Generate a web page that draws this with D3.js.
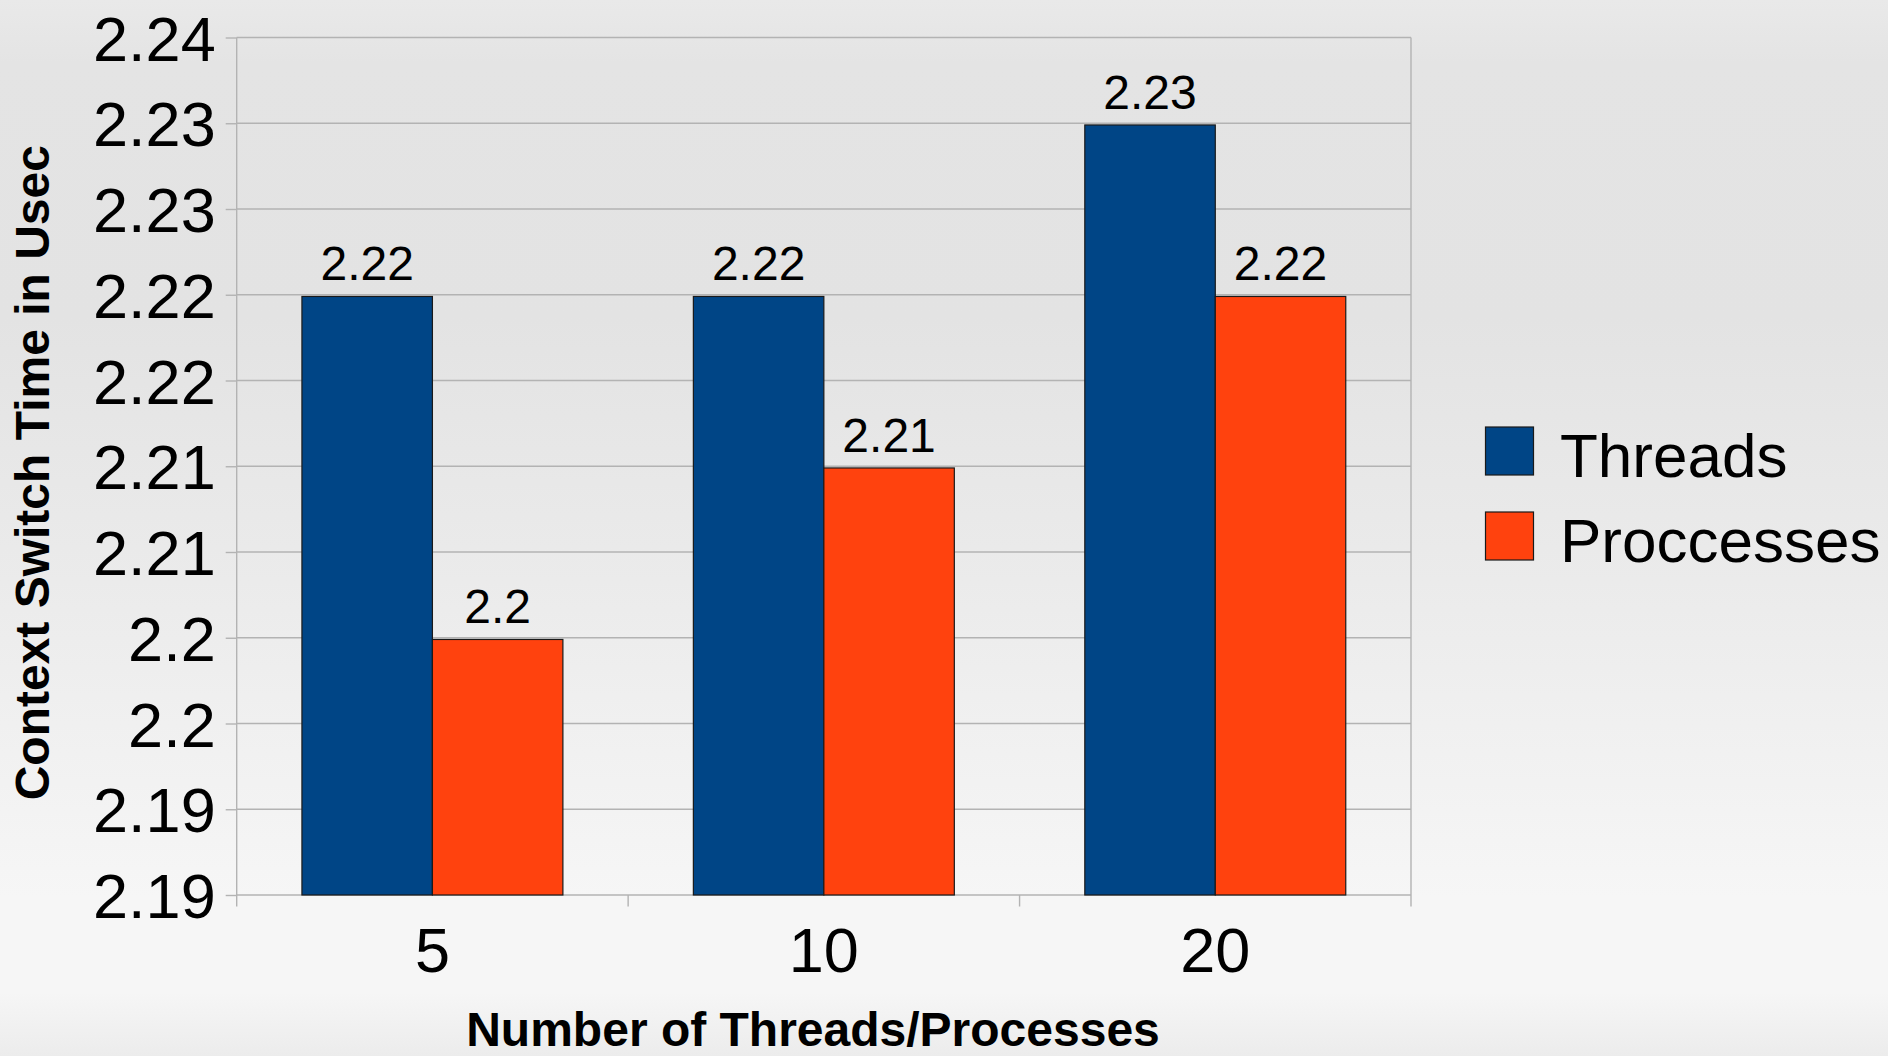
<!DOCTYPE html>
<html>
<head>
<meta charset="utf-8">
<script src="https://cdn.jsdelivr.net/npm/d3@7"></script>
<style>
  html, body { margin: 0; padding: 0; }
  body { width: 1888px; height: 1056px; overflow: hidden; }
  svg { display: block; font-family: "Liberation Sans", Arial, sans-serif; }
</style>
</head>
<body>
<svg id="chart" width="1888" height="1056"></svg>
<script>
// Context switch timings (microseconds) by number of threads / processes
const categories = ["5", "10", "20"];
const seriesNames = ["Threads", "Proccesses"];
const threadTimes = [2.2249, 2.2249, 2.2349];
const processTimes = [2.2049, 2.2149, 2.2249];
const seriesColors = ["#004586", "#ff420e"];
const yTickValues = [2.19, 2.195, 2.2, 2.205, 2.21, 2.215, 2.22, 2.225, 2.23, 2.235, 2.24];
const yTickLabels = ["2.19", "2.19", "2.2", "2.2", "2.21", "2.21", "2.22", "2.22", "2.23", "2.23", "2.24"];
const xTitle = "Number of Threads/Processes";
const yTitle = "Context Switch Time in Usec";

const seriesValues = [threadTimes, processTimes];

const svg = d3.select("#chart");

// Slide background: soft grey vertical gradient
const defs = svg.append("defs");
const grad = defs.append("linearGradient")
  .attr("id", "bg").attr("x1", 0).attr("y1", 0).attr("x2", 0).attr("y2", 1);
[[0, "#e9e9e9"], [0.06, "#e4e4e4"], [0.3, "#e3e3e3"], [0.55, "#ebebeb"],
 [0.85, "#f6f6f6"], [0.94, "#f6f6f6"], [1, "#ececec"]]
  .forEach(([o, c]) => grad.append("stop").attr("offset", o).attr("stop-color", c));
svg.append("rect").attr("width", 1888).attr("height", 1056).attr("fill", "url(#bg)");

const plot = { left: 236.7, right: 1411, top: 37.5, bottom: 895 };
const gridColor = "#b3b3b3";

const x = d3.scaleBand().domain(categories).range([plot.left, plot.right]).padding(0);
const xSub = d3.scaleBand().domain(seriesNames)
  .range([x.bandwidth() / 6, x.bandwidth() * 5 / 6]).padding(0);
const y = d3.scaleLinear().domain([yTickValues[0], yTickValues[yTickValues.length - 1]])
  .range([plot.bottom, plot.top]);

// Horizontal gridlines
svg.append("g").selectAll("line").data(yTickValues).join("line")
  .attr("x1", plot.left).attr("x2", plot.right)
  .attr("y1", d => y(d)).attr("y2", d => y(d))
  .attr("stroke", gridColor).attr("stroke-width", 1.4);

// Right frame edge
svg.append("line")
  .attr("x1", plot.right).attr("x2", plot.right)
  .attr("y1", plot.top).attr("y2", plot.bottom)
  .attr("stroke", gridColor).attr("stroke-width", 1.4);

// Y axis
const yAxis = svg.append("g")
  .attr("transform", `translate(${plot.left},0)`)
  .call(d3.axisLeft(y).tickValues(yTickValues)
    .tickFormat((d, i) => yTickLabels[i]).tickSize(11).tickSizeOuter(0).tickPadding(10));
yAxis.select(".domain").remove();
yAxis.selectAll(".tick line").attr("stroke", gridColor).attr("stroke-width", 1.4);
yAxis.selectAll(".tick text")
  .attr("font-size", 63).attr("fill", "#000")
  .attr("font-family", "'Liberation Sans', Arial, sans-serif")
  .attr("dy", "0.357em");
yAxis.append("line")
  .attr("x1", 0).attr("x2", 0).attr("y1", plot.top).attr("y2", plot.bottom + 11.5)
  .attr("stroke", gridColor).attr("stroke-width", 1.4);

// X axis: ticks on category boundaries, labels at category centres
const xAxisG = svg.append("g");
const boundaries = categories.map(c => x(c)).concat([x(categories[categories.length - 1]) + x.bandwidth()]);
xAxisG.selectAll("line.tick").data(boundaries.slice(1)).join("line")
  .attr("class", "tick")
  .attr("x1", d => d).attr("x2", d => d)
  .attr("y1", plot.bottom).attr("y2", plot.bottom + 11.5)
  .attr("stroke", gridColor).attr("stroke-width", 1.4);
xAxisG.selectAll("text").data(categories).join("text")
  .attr("x", d => x(d) + x.bandwidth() / 2)
  .attr("y", 972)
  .attr("text-anchor", "middle")
  .attr("font-size", 63)
  .attr("fill", "#000")
  .text(d => d);

// Bars
const groups = svg.append("g").selectAll("g").data(categories).join("g")
  .attr("transform", d => `translate(${x(d)},0)`);
groups.selectAll("rect")
  .data((c, ci) => seriesNames.map((s, si) => ({ s, si, v: seriesValues[si][ci] })))
  .join("rect")
  .attr("x", d => xSub(d.s))
  .attr("width", xSub.bandwidth())
  .attr("y", d => y(d.v))
  .attr("height", d => plot.bottom - y(d.v))
  .attr("fill", d => seriesColors[d.si])
  .attr("stroke", "#1a1a1a").attr("stroke-width", 1.2);

// Value labels above bars
const fmt = d3.format(".2~f");
groups.selectAll("text")
  .data((c, ci) => seriesNames.map((s, si) => ({ s, si, v: seriesValues[si][ci] })))
  .join("text")
  .attr("x", d => xSub(d.s) + xSub.bandwidth() / 2)
  .attr("y", d => y(d.v) - 16)
  .attr("text-anchor", "middle")
  .attr("font-size", 48)
  .attr("fill", "#000")
  .text(d => fmt(d.v));

// Axis titles
svg.append("text")
  .attr("x", 813).attr("y", 1046)
  .attr("text-anchor", "middle")
  .attr("font-size", 48).attr("font-weight", "bold")
  .attr("fill", "#000")
  .text(xTitle);
svg.append("text")
  .attr("transform", "translate(49,472.7) rotate(-90)")
  .attr("text-anchor", "middle")
  .attr("font-size", 48).attr("font-weight", "bold")
  .attr("fill", "#000")
  .text(yTitle);

// Legend
const legend = svg.append("g").selectAll("g").data(seriesNames).join("g")
  .attr("transform", (d, i) => `translate(1485.5,${427 + i * 85})`);
legend.append("rect")
  .attr("width", 48).attr("height", 48)
  .attr("fill", (d, i) => seriesColors[i])
  .attr("stroke", "#1a1a1a").attr("stroke-width", 1.2);
legend.append("text")
  .attr("x", 74.5).attr("y", 50.3)
  .attr("font-size", 62)
  .attr("fill", "#000")
  .text(d => d);
</script>
</body>
</html>
